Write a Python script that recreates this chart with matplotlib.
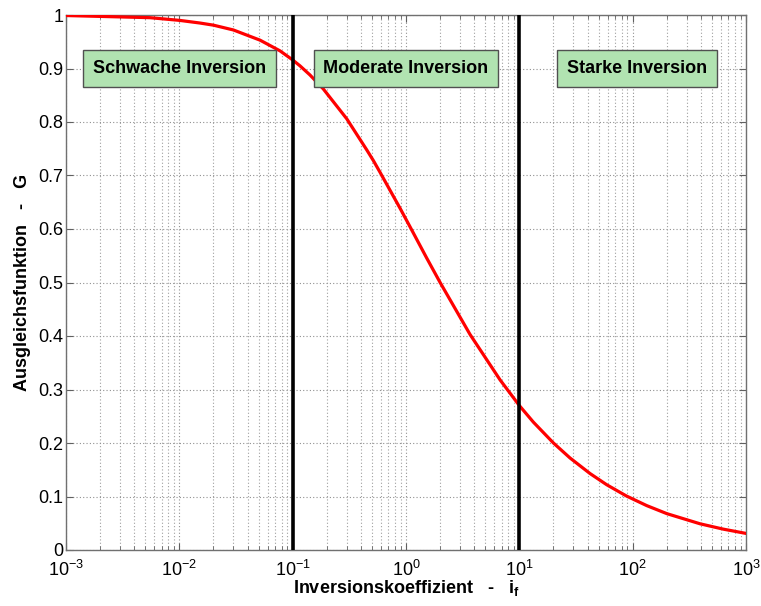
import numpy as np
import matplotlib
matplotlib.use("Agg")
import matplotlib.pyplot as plt
from matplotlib.ticker import LogLocator, FormatStrFormatter, NullFormatter

plt.rcParams["font.family"] = ["Liberation Sans", "DejaVu Sans"]
plt.rcParams["mathtext.fontset"] = "custom"
plt.rcParams["mathtext.rm"] = "Liberation Sans"
plt.rcParams["mathtext.bf"] = "Liberation Sans:bold"
plt.rcParams["mathtext.it"] = "Liberation Sans:italic"

# === Ausgleichsfunktion G ueber Inversionskoeffizient i_f ===
i_f = [0.001, 0.0055, 0.01, 0.0152, 0.02, 0.03, 0.0515, 0.0773, 0.1, 0.116,
       0.142, 0.186, 0.3, 0.45, 0.515, 0.59, 0.885, 1.08, 1.52, 2.0,
       3.67, 6.76, 10, 13.3, 20, 28, 42, 59, 88, 133, 200, 393, 630, 1000]
G = [0.999, 0.995, 0.990, 0.985, 0.981, 0.972, 0.953, 0.933, 0.916, 0.905,
     0.888, 0.862, 0.806, 0.748, 0.728, 0.706, 0.639, 0.605, 0.546, 0.500,
     0.403, 0.318, 0.270, 0.239, 0.200, 0.172, 0.143, 0.122, 0.101, 0.083, 0.068, 0.049, 0.039, 0.031]

# Bereichsgrenzen und Beschriftungen
grenzen = [0.1, 10]
bereiche = ["Schwache Inversion", "Moderate Inversion", "Starke Inversion"]
bereich_x = [0.01, 1.0, 110]
bereich_y = 0.9

fig = plt.figure(figsize=(7.61, 6.06), dpi=100)
ax = fig.add_axes([66 / 761, 1 - 550 / 606, 680 / 761, 535 / 606])

ax.plot(i_f, G, color="red", linewidth=2.3, zorder=3)
for g in grenzen:
    ax.axvline(g, color="black", linewidth=2.6, zorder=4)

for txt, xb in zip(bereiche, bereich_x):
    ax.text(xb, bereich_y, txt, ha="center", va="center", fontsize=13,
            fontweight="bold", zorder=5,
            bbox=dict(boxstyle="square,pad=0.55", facecolor="#b1e3b1",
                      edgecolor="#505050", linewidth=1.0))

# Achsen
ax.set_xscale("log")
ax.set_xlim(1e-3, 1e3)
ax.set_ylim(0, 1)
ax.set_yticks(np.arange(0, 1.01, 0.1))
ax.yaxis.set_major_formatter(FormatStrFormatter("%g"))
ax.set_xticks([1e-3, 1e-2, 1e-1, 1e0, 1e1, 1e2, 1e3])
ax.xaxis.set_minor_locator(LogLocator(base=10, subs=np.arange(2, 10), numticks=20))
ax.xaxis.set_minor_formatter(NullFormatter())

ax.grid(True, which="major", axis="both", linestyle=(0, (1, 2)), color="#909090", linewidth=0.8)
ax.grid(True, which="minor", axis="x", linestyle=(0, (1, 2)), color="#a0a0a0", linewidth=0.8)
ax.set_axisbelow(True)

ax.tick_params(which="both", direction="in", top=True, right=True, labelsize=13,
               colors="#606060", labelcolor="black")
ax.tick_params(which="major", length=5)
ax.tick_params(which="minor", length=3)
ax.tick_params(axis="x", pad=7)
ax.tick_params(axis="y", pad=2)
for s in ax.spines.values():
    s.set_color("#707070")
    s.set_linewidth(1.0)

ax.set_xlabel(r"Inversionskoeffizient   -   $\mathbf{i_f}$", fontsize=13, fontweight="bold", labelpad=-1)
ax.set_ylabel("Ausgleichsfunktion   -   G", fontsize=13, fontweight="bold", labelpad=5)

fig.savefig("out.png", dpi=100)
